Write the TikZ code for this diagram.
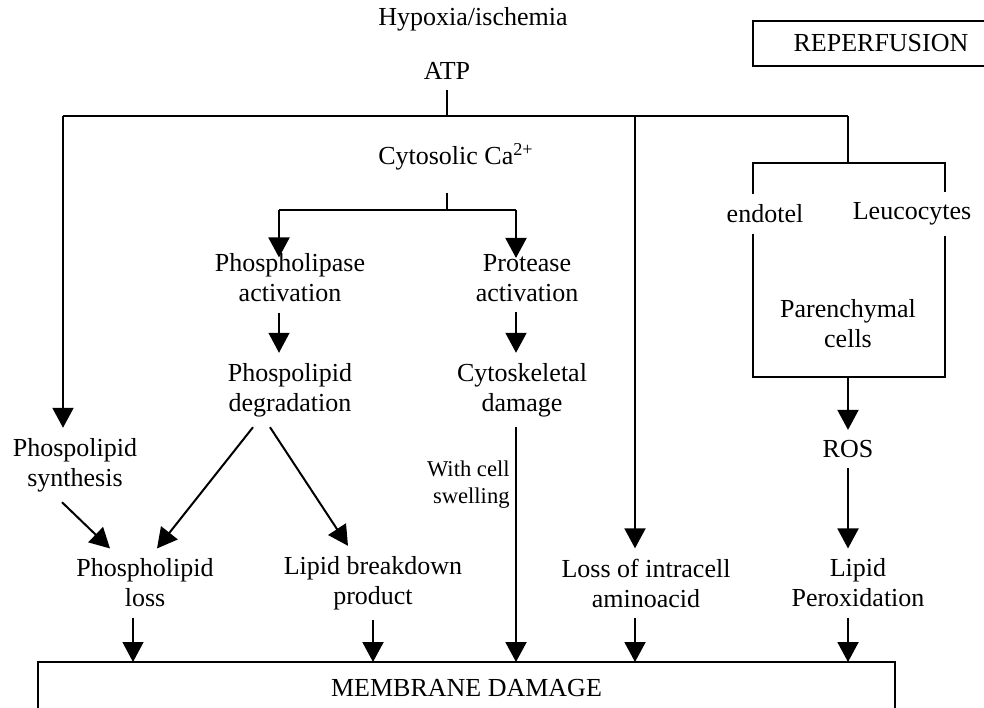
\documentclass[tikz,border=0pt]{standalone}
\usepackage{fontspec}
\setmainfont{Liberation Serif}
\usetikzlibrary{arrows.meta}

\begin{document}
\begin{tikzpicture}[x=.5pt,y=-.5pt,
  lbl/.style={align=center,inner xsep=2pt,inner ysep=5pt,font=\fontsize{13}{15}\selectfont},
  arr/.style={line width=1pt,-{Triangle[length=10pt,width=10.5pt]}},
  ln/.style={line width=1pt},
  thin/.style={line width=.6pt}]
\useasboundingbox (0,0) rectangle (984,707);
\clip (0,0) rectangle (984,707);
% labels
\node[lbl] (hyp) at (473,19) {Hypoxia/ischemia};
\node[lbl] (atp) at (447,71) {ATP};
\node[lbl,draw,line width=1pt,minimum width=128.5pt,minimum height=22.5pt] (rep) at (881,43.5) {REPERFUSION};
\node[lbl] (cyto) at (456,157) {Cytosolic Ca\textsuperscript{2+}};
\node[lbl] (plase) at (290,278) {Phospholipase\\activation};
\node[lbl] (prot) at (527,278) {Protease\\activation};
\node[lbl] (degr) at (290,390) {Phospolipid\\degradation};
\node[lbl] (cysk) at (522,390) {Cytoskeletal\\damage};
\node[lbl] (synth) at (75,465) {Phospolipid\\synthesis};
\node[lbl,align=right,anchor=east,font=\fontsize{11.3}{13.5}\selectfont] (swell) at (514,485) {With cell\\swelling};
\node[lbl] (loss) at (145,583) {Phospholipid\\loss};
\node[lbl] (prod) at (373,583) {Lipid breakdown\\product};
\node[lbl] (amino) at (646,583) {Loss of intracell\\aminoacid};
\node[lbl] (endo) at (765,214) {endotel};
\node[lbl] (leuc) at (912,214) {Leucocytes};
\node[lbl] (paren) at (848,324) {Parenchymal\\cells};
\node[lbl] (ros) at (848,449) {ROS};
\node[lbl] (perox) at (858,583) {Lipid\\Peroxidation};
\node[lbl,draw,line width=1pt,minimum width=428.5pt,minimum height=26pt] (mem) at (466.5,688) {MEMBRANE DAMAGE};
% branch points
\coordinate (b1) at (63,116);
\coordinate (b4) at (635,116);
\coordinate (b5) at (848,116);
\coordinate (c0) at (447,210);
\coordinate (c1) at (279,210);
\coordinate (c2) at (516,210);
\coordinate (rl) at (753,163);
\coordinate (rr) at (945,163);
\coordinate (pl) at (753,377);
\coordinate (pr) at (945,377);
\foreach \n/\x in {m1/133,m2/373,m3/516,m4/635,m5/848}
  \coordinate (\n) at (\x,662);
% ATP bus
\draw[thin] (atp.south) -- (atp.south |- b1);
\draw[ln] (b1) -- (b5);
\draw[arr] (b1) -- (b1 |- synth.north);
\draw[arr] (b4) -- (b4 |- amino.north);
% Ca branch
\draw[thin,shorten <=6pt] (cyto.south -| c0) -- (c0);
\draw[ln] (c1) -- (c2);
\draw[arr,shorten >=-7pt] (c1) -- (c1 |- plase.north);
\draw[arr,shorten >=-7pt] (c2) -- (c2 |- prot.north);
\draw[arr,line width=.6pt] (plase.south -| c1) -- (c1 |- degr.north);
\draw[arr] (prot.south -| c2) -- (c2 |- cysk.north);
\draw[arr] ([xshift=-18.5pt]degr.south) -- ([xshift=6pt]loss.north);
\draw[arr] ([xshift=-10pt]degr.south) -- ([xshift=-12.5pt]prod.north);
\draw[arr] ([xshift=-6.5pt]synth.south) -- ([xshift=-17.5pt]loss.north);
% reperfusion branch
\draw[ln] (b5) -- (b5 |- rl);
\draw[ln] (rl |- endo.north) -- (rl) -- (rr) -- (rr |- leuc.north);
\draw[ln] (rl |- endo.south) -- (pl) -- (pr) -- (pr |- leuc.south);
\draw[arr] (b5 |- pl) -- (ros.north);
\draw[arr] (ros.south) -- (ros.south |- perox.north);
% into membrane damage
\draw[arr,line width=.6pt] (loss.south -| m1) -- (m1);
\draw[arr] (prod.south -| m2) -- (m2);
\draw[arr] (cysk.south -| m3) -- (m3);
\draw[arr] (amino.south -| m4) -- (m4);
\draw[arr] (perox.south -| m5) -- (m5);
\end{tikzpicture}
\end{document}
